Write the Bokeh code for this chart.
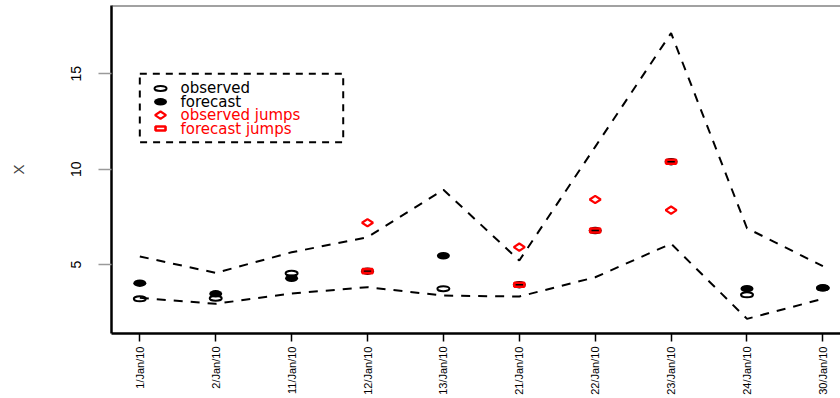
import numpy as np
from bokeh.plotting import figure
from bokeh.models import Range1d, FixedTicker, Span, BoxAnnotation
from bokeh.core.properties import value
from bokeh.embed import file_html
from bokeh.resources import INLINE

# Dates on the x axis
dates = ["1/Jan/10", "2/Jan/10", "11/Jan/10", "12/Jan/10", "13/Jan/10",
         "21/Jan/10", "22/Jan/10", "23/Jan/10", "24/Jan/10", "30/Jan/10"]

# Observed and forecast values of X
observed = [3.20, 3.23, 4.54, 7.19, 3.73, 5.91, 8.41, 7.85, 3.41, 3.77]
forecast = [4.02, 3.46, 4.28, 4.65, 5.46, 3.94, 6.78, 10.39, 3.73, 3.78]

# Forecast band (upper and lower limits)
upper = [5.42, 4.56, 5.64, 6.43, 8.92, 5.21, 11.17, 17.13, 6.90, 4.91]
lower = [3.25, 2.94, 3.48, 3.81, 3.37, 3.32, 4.33, 6.09, 2.15, 3.20]

# Dates flagged as jumps
jump = [False, False, False, True, False, True, True, True, False, False]

legend_labels = ["observed", "forecast", "observed jumps", "forecast jumps"]
legend_colors = ["black", "black", "red", "red"]
y_ticks = [5, 10, 15]

x = np.arange(1, len(dates) + 1)
jump = np.array(jump)
observed = np.array(observed)
forecast = np.array(forecast)

p = figure(width=840, height=398,
           x_range=Range1d(0.627, 10.232), y_range=Range1d(1.382, 18.58),
           output_backend="svg", toolbar_location=None,
           min_border_left=111, min_border_right=0,
           min_border_top=5, min_border_bottom=65,
           outline_line_color=None, background_fill_color="white",
           border_fill_color="white")
p.grid.visible = False

# x axis: one tick per date, labels read upwards
xa = p.xaxis[0]
xa.ticker = FixedTicker(ticks=[int(v) for v in x])
xa.major_label_overrides = {int(v): d for v, d in zip(x, dates)}
xa.major_label_orientation = np.pi / 2
xa.major_label_text_font = "Liberation Sans"
xa.major_label_text_font_size = "11px"
xa.major_label_text_color = "black"
xa.major_label_standoff = 5
xa.major_tick_out = 8
xa.major_tick_in = 0
xa.major_tick_line_color = "black"
xa.major_tick_line_width = 1.5
xa.minor_tick_line_color = None
xa.axis_line_color = "black"
xa.axis_line_width = 2.5

# y axis
ya = p.yaxis[0]
ya.ticker = FixedTicker(ticks=y_ticks)
ya.major_label_orientation = "vertical"
ya.major_label_text_font = "Liberation Sans"
ya.major_label_text_font_size = "14px"
ya.major_label_text_color = "black"
ya.major_label_standoff = 17
ya.major_tick_out = 13
ya.major_tick_in = 0
ya.major_tick_line_color = "#9a9a9a"
ya.major_tick_line_width = 1.5
ya.minor_tick_line_color = None
ya.axis_line_color = "black"
ya.axis_line_width = 2.5
ya.axis_label = "X"
ya.axis_label_text_font = "Liberation Sans"
ya.axis_label_text_font_size = "15px"
ya.axis_label_text_font_style = "normal"
ya.axis_label_standoff = 42

# top edge of the plotting box
p.add_layout(Span(location=18.58, dimension="width",
                  line_color="#444444", line_width=2))

# forecast band
dash = "9 8"
p.line(x, upper, line_color="black", line_width=2, line_dash=dash)
p.line(x, lower, line_color="black", line_width=2, line_dash=dash)

# observed values (ordinary dates)
p.ellipse(x[~jump], observed[~jump], width=12, height=5,
          width_units="screen", height_units="screen",
          fill_color=None, line_color="black", line_width=2)
# forecast values
p.ellipse(x, forecast, width=13, height=7.5,
          width_units="screen", height_units="screen",
          fill_color="black", line_color=None)
# observed jumps
p.scatter(x[jump], observed[jump], marker="diamond", size=11, angle=np.pi / 2,
          fill_color="white", line_color="red", line_width=2.2)
# forecast jumps
p.rect(x[jump], forecast[jump], width=10, height=4,
       width_units="screen", height_units="screen",
       fill_color=None, line_color="red", line_width=2.6)

# legend frame
p.add_layout(BoxAnnotation(left=1.0, right=3.68, top=15.0, bottom=11.41,
                           fill_alpha=0.0, line_color="black", line_alpha=1.0,
                           line_width=2, line_dash="7 6"))
rows = [15.0 - 0.77 - 0.70 * i for i in range(len(legend_labels))]
sym_x = 1.273
p.ellipse([sym_x], [rows[0]], width=12, height=5,
          width_units="screen", height_units="screen",
          fill_color=None, line_color="black", line_width=2)
p.ellipse([sym_x], [rows[1]], width=13, height=7.5,
          width_units="screen", height_units="screen",
          fill_color="black", line_color=None)
p.scatter([sym_x], [rows[2]], marker="diamond", size=11, angle=np.pi / 2,
          fill_color="white", line_color="red", line_width=2.2)
p.rect([sym_x], [rows[3]], width=10, height=4,
       width_units="screen", height_units="screen",
       fill_color="white", line_color="red", line_width=2.6)
p.text([1.536] * len(legend_labels), rows, text=legend_labels,
       text_color=legend_colors, text_font=value("DejaVu Sans"),
       text_font_size="15px", text_baseline="middle", text_align="left")

open("out.html", "w").write(file_html(p, INLINE))
